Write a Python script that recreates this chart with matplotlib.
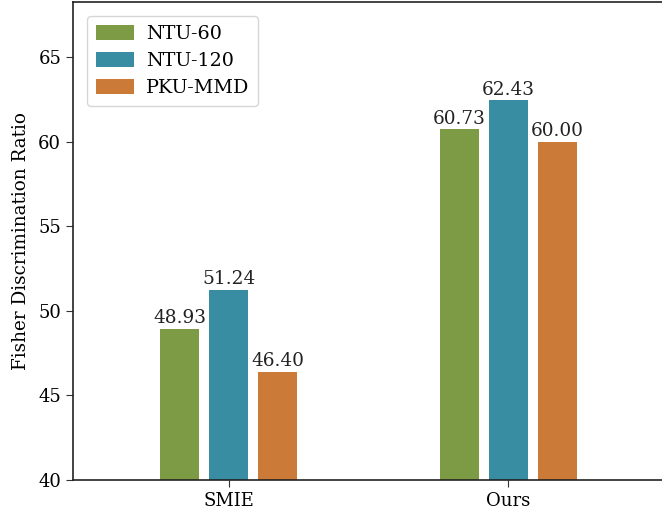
import matplotlib
matplotlib.use("Agg")
import matplotlib.pyplot as plt
import numpy as np

methods = ["SMIE", "Ours"]
datasets = ["NTU-60", "NTU-120", "PKU-MMD"]
ntu60 = [48.93, 60.73]
ntu120 = [51.24, 62.43]
pku = [46.40, 60.00]
colors = ["#7D9A45", "#388DA3", "#CB7A37"]

plt.rcParams["font.family"] = ["DejaVu Serif"]

fig = plt.figure(figsize=(6.62, 5.14), dpi=100)
ax = fig.add_axes([73 / 662, 34 / 514, 592 / 662, 478 / 514])

x = np.arange(len(methods))
width = 0.138
offset = 0.175
for i, (vals, name, c) in enumerate(zip([ntu60, ntu120, pku], datasets, colors)):
    pos = x + (i - 1) * offset
    bars = ax.bar(pos, vals, width, color=c, label=name, zorder=2)
    for b, v in zip(bars, vals):
        ax.text(b.get_x() + b.get_width() / 2, v + 0.1, f"{v:.2f}",
                ha="center", va="bottom", fontsize=13.3, color="#222222")

ax.set_xlim(-0.556, 1.56)
ax.set_ylim(40, 68.25)
ax.set_xticks(x)
ax.set_xticklabels(methods, fontsize=13)
ax.set_yticks([40, 45, 50, 55, 60, 65])
ax.tick_params(axis="y", labelsize=13, length=5, color="#333333")
ax.tick_params(axis="x", length=5, color="#333333")
ax.set_ylabel("Fisher Discrimination Ratio", fontsize=13.2, labelpad=6)
for s in ax.spines.values():
    s.set_color("#222222")
    s.set_linewidth(1.2)
ax.spines["right"].set_visible(False)

leg = ax.legend(loc="upper left", fontsize=13.8, handlelength=2.0, handleheight=0.85,
                borderpad=0.45, labelspacing=0.45, handletextpad=0.6,
                bbox_to_anchor=(0.008, 0.99))
leg.get_frame().set_edgecolor("#cccccc")

fig.savefig("out.png", dpi=100)
